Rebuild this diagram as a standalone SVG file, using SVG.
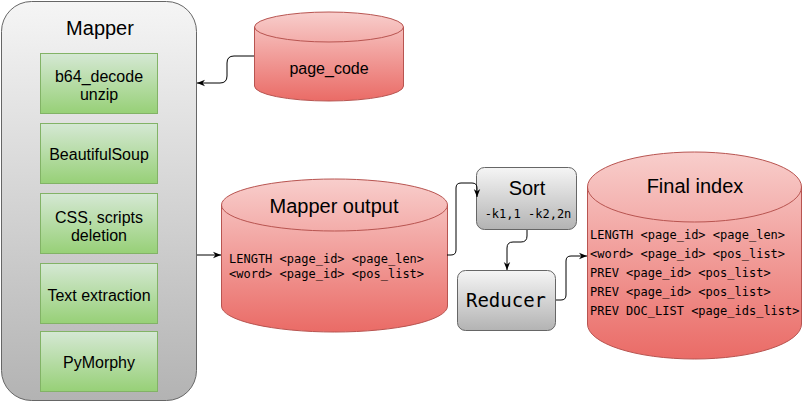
<svg xmlns="http://www.w3.org/2000/svg" width="803" height="403" viewBox="0 0 803 403">
<defs>
<linearGradient id="gGray" x1="0" y1="0" x2="0" y2="1"><stop offset="0" stop-color="#f5f5f5"/><stop offset="1" stop-color="#b3b3b3"/></linearGradient>
<linearGradient id="gGreen" x1="0" y1="0" x2="0" y2="1"><stop offset="0" stop-color="#d5e8d4"/><stop offset="1" stop-color="#97d077"/></linearGradient>
<linearGradient id="gRed" x1="0" y1="0" x2="0" y2="1"><stop offset="0" stop-color="#f8cecc"/><stop offset="1" stop-color="#ea6b66"/></linearGradient>
<marker id="arr" viewBox="0 0 10 10" refX="10" refY="5" markerWidth="8" markerHeight="8" markerUnits="userSpaceOnUse" orient="auto">
<path d="M0,1 L10,5 L0,9 L3,5 Z" fill="#000"/>
</marker>
</defs>
<style>
.gray{fill:url(#gGray);stroke:#666666;stroke-width:1}
.green{fill:url(#gGreen);stroke:#82b366;stroke-width:1}
.cyl{fill:url(#gRed);stroke:#b85450;stroke-width:1}
.cylTop{fill:none;stroke:#b85450;stroke-width:1}
.t{font-family:"Liberation Sans",Arial,sans-serif;fill:#000;text-anchor:middle}
.m{font-family:"DejaVu Sans Mono","Liberation Mono",monospace;fill:#000;font-size:12px}
.edge{fill:none;stroke:#000;stroke-width:1;marker-end:url(#arr)}
</style>
<rect width="803" height="403" fill="#fff"/>

<g id="mapper">
<rect class="gray" x="1.5" y="1.5" width="195" height="399" rx="30" ry="30"/>
<text class="t" x="100" y="35" font-size="20">Mapper</text>
</g>
<g id="b64">
<rect class="green" x="40.5" y="53.5" width="117" height="60"/>
<text class="t" x="99" y="82" font-size="16">b64_decode</text>
<text class="t" x="99" y="100" font-size="16">unzip</text>
</g>
<g id="bs">
<rect class="green" x="40.5" y="123.5" width="117" height="60"/>
<text class="t" x="99" y="160" font-size="16">BeautifulSoup</text>
</g>
<g id="css">
<rect class="green" x="40.5" y="193.5" width="117" height="60"/>
<text class="t" x="99" y="223" font-size="16">CSS, scripts</text>
<text class="t" x="99" y="241" font-size="16">deletion</text>
</g>
<g id="textext">
<rect class="green" x="40.5" y="263.5" width="117" height="60"/>
<text class="t" x="99" y="301" font-size="16">Text extraction</text>
</g>
<g id="pymorphy">
<rect class="green" x="40.5" y="331.5" width="117" height="60"/>
<text class="t" x="99" y="368" font-size="16">PyMorphy</text>
</g>

<g id="page_code">
<path class="cyl" d="M254.5,27 A74.5,15 0 0 1 403.5,27 V86 A74.5,15 0 0 1 254.5,86 Z"/>
<path class="cylTop" d="M254.5,27 A74.5,15 0 0 0 403.5,27"/>
<text class="t" x="329" y="74" font-size="16">page_code</text>
</g>

<g id="mapper_output">
<path class="cyl" d="M221.5,205 A113,26 0 0 1 447.5,205 V306 A113,26 0 0 1 221.5,306 Z"/>
<path class="cylTop" d="M221.5,205 A113,26 0 0 0 447.5,205"/>
<text class="t" x="334" y="213" font-size="20">Mapper output</text>
<text class="m" x="229" y="263">LENGTH &lt;page_id&gt; &lt;page_len&gt;</text>
<text class="m" x="229" y="278">&lt;word&gt; &lt;page_id&gt; &lt;pos_list&gt;</text>
</g>

<g id="sort">
<rect class="gray" x="476.5" y="167.5" width="100" height="62" rx="8" ry="8"/>
<text class="t" x="527" y="195" font-size="20">Sort</text>
<text class="m" x="528" y="218" text-anchor="middle">-k1,1 -k2,2n</text>
</g>

<g id="reducer">
<rect class="gray" x="457.5" y="270.5" width="98" height="60" rx="8" ry="8"/>
<text class="m" x="506" y="307" text-anchor="middle" style="font-size:19px">Reducer</text>
</g>

<g id="final_index">
<path class="cyl" d="M587.5,187 A107,35 0 0 1 801.5,187 V324 A107,35 0 0 1 587.5,324 Z"/>
<path class="cylTop" d="M587.5,187 A107,35 0 0 0 801.5,187"/>
<text class="t" x="695" y="193" font-size="20">Final index</text>
<text class="m" x="590" y="239">LENGTH &lt;page_id&gt; &lt;page_len&gt;</text>
<text class="m" x="590" y="258">&lt;word&gt; &lt;page_id&gt; &lt;pos_list&gt;</text>
<text class="m" x="590" y="277">PREV &lt;page_id&gt; &lt;pos_list&gt;</text>
<text class="m" x="590" y="296">PREV &lt;page_id&gt; &lt;pos_list&gt;</text>
<text class="m" x="590" y="315">PREV DOC_LIST &lt;page_ids_list&gt;</text>
</g>

<g id="connectors">
<path class="edge" d="M254,56 H234 Q227,56 227,63 V76 Q227,83 220,83 H197"/>
<path class="edge" d="M197,255 H221"/>
<path class="edge" d="M447,255 H451 Q456,255 456,250 V188 Q456,183 461,183 H472 Q477,183 477,188 V197"/>
<path class="edge" d="M527,230 V236 Q527,242 521,242 H513 Q507,242 507,248 V270"/>
<path class="edge" d="M556,300 H561 Q566,300 566,295 V261 Q566,256 571,256 H587"/>
</g>
</svg>
